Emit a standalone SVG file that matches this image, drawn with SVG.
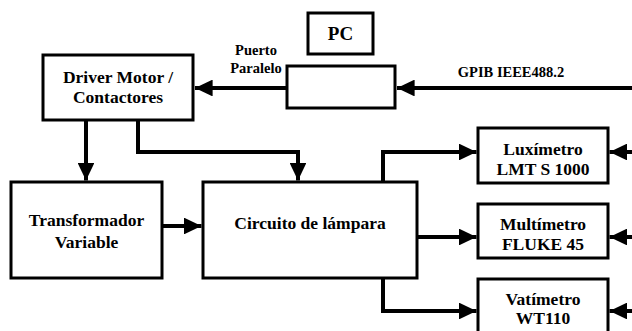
<svg xmlns="http://www.w3.org/2000/svg" width="632" height="331" viewBox="0 0 632 331">
<defs>
<marker id="ah" markerWidth="5" markerHeight="4.2" refX="4.4" refY="2.1" orient="auto" markerUnits="strokeWidth">
<path d="M0,0 L4.4,2.1 L0,4.2 Z" fill="#000"/>
</marker>
<style>
.box{fill:#fff;stroke:#000;stroke-width:3}
.t{font-family:"Liberation Serif","Times New Roman",serif;font-weight:bold;fill:#000;text-anchor:middle}
.l{font-size:17.5px}
.s{font-size:14.5px}
.c{fill:none;stroke:#000;stroke-width:4;marker-end:url(#ah)}
</style>
</defs>
<rect width="632" height="331" fill="#fff"/>
<g id="connectors">
<path class="c" d="M287,88 H195"/>
<path class="c" d="M632,88 H397"/>
<path class="c" d="M86,120 V180.5"/>
<path class="c" d="M138,120 V152 H298 V180.5"/>
<path class="c" d="M162,226 H201.5"/>
<path class="c" d="M383,182 V152 H476.5"/>
<path class="c" d="M417,237 H476.5"/>
<path class="c" d="M383,278 V311 H476.5"/>
<path class="c" d="M632,152 H609.5"/>
<path class="c" d="M632,237 H609.5"/>
<path class="c" d="M632,311 H609.5"/>
<text class="t s" x="256" y="55">Puerto</text>
<text class="t s" x="256" y="73">Paralelo</text>
<text class="t s" x="511" y="77">GPIB IEEE488.2</text>
</g>
<g id="pc"><rect class="box" x="308" y="13" width="65" height="41"/><text class="t" style="font-size:19px" x="340.5" y="40">PC</text></g>
<g id="interfaz"><rect class="box" x="287" y="66" width="108" height="42"/></g>
<g id="driver"><rect class="box" x="43" y="55" width="150" height="65"/><text class="t l" x="118" y="83">Driver Motor /</text><text class="t l" x="118" y="103">Contactores</text></g>
<g id="transformador"><rect class="box" x="11" y="182" width="151" height="96"/><text class="t l" x="86.5" y="226">Transformador</text><text class="t l" x="86.5" y="248">Variable</text></g>
<g id="circuito"><rect class="box" x="203" y="182" width="214" height="96"/><text class="t l" x="310" y="229">Circuito de lámpara</text></g>
<g id="luximetro"><rect class="box" x="478" y="128" width="130" height="55"/><text class="t l" x="543" y="155">Luxímetro</text><text class="t l" x="543" y="175">LMT S 1000</text></g>
<g id="multimetro"><rect class="box" x="478" y="204" width="130" height="54"/><text class="t l" x="543" y="230">Multímetro</text><text class="t l" x="543" y="250">FLUKE 45</text></g>
<g id="vatimetro"><rect class="box" x="478" y="279" width="130" height="56"/><text class="t l" x="543" y="305">Vatímetro</text><text class="t l" x="543" y="324">WT110</text></g>
</svg>
